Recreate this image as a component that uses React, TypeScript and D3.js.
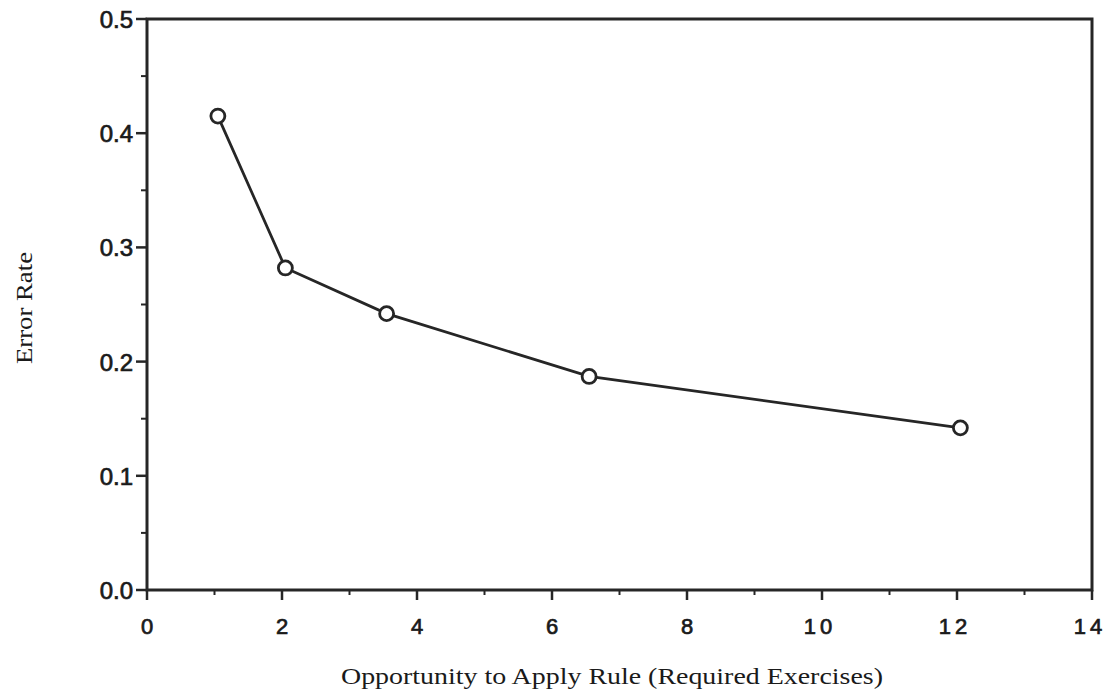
import React from "react";
import * as d3 from "d3";

const opportunities = [1.05, 2.05, 3.55, 6.55, 12.05];
const errorRates = [0.415, 0.282, 0.242, 0.187, 0.142];
const xTickValues = [0, 2, 4, 6, 8, 10, 12, 14];
const yTickValues = [0.0, 0.1, 0.2, 0.3, 0.4, 0.5];
const xMinorTicks = [1, 3, 5, 7, 9, 11, 13];
const yMinorTicks = [0.05, 0.15, 0.25, 0.35, 0.45];
const xTitle = "Opportunity to Apply Rule (Required Exercises)";
const yTitle = "Error Rate";

const W = 1105;
const H = 694;
const M = { left: 147, right: 1092, top: 19, bottom: 590 };

export default function App() {
  const x = d3.scaleLinear().domain([0, 14]).range([M.left, M.right]);
  const y = d3.scaleLinear().domain([0, 0.5]).range([M.bottom, M.top]);
  const pts = opportunities.map((o, i) => [x(o), y(errorRates[i])] as [number, number]);
  const line = d3.line()(pts) || "";
  const stroke = "#262626";
  const sans = "'Liberation Sans', Arial, Helvetica, sans-serif";
  const serif = "'Liberation Serif', 'Times New Roman', serif";

  return (
    <svg width={W} height={H} style={{ position: "absolute", left: 0, top: 0, background: "#fff" }}>
      <rect x={0} y={0} width={W} height={H} fill="#fff" />
      {/* frame */}
      <rect
        x={M.left}
        y={M.top}
        width={M.right - M.left}
        height={M.bottom - M.top}
        fill="none"
        stroke={stroke}
        strokeWidth={3}
      />
      {/* x ticks */}
      {xTickValues.map((v) => (
        <g key={"xt" + v}>
          <line x1={x(v)} x2={x(v)} y1={M.bottom} y2={M.bottom + 10} stroke={stroke} strokeWidth={2.5} />
          <text
            x={x(v) - (v >= 10 ? 2 : 0)}
            y={M.bottom + 44}
            textAnchor="middle"
            fontFamily={sans}
            fontSize={22}
            letterSpacing={v >= 10 ? 4 : 0}
            fill="#1a1a1a"
            stroke="#1a1a1a"
            strokeWidth={0.7}
          >
            {v}
          </text>
        </g>
      ))}
      {xMinorTicks.map((v) => (
        <line key={"xm" + v} x1={x(v)} x2={x(v)} y1={M.bottom} y2={M.bottom + 5} stroke={stroke} strokeWidth={2} />
      ))}
      {/* y ticks */}
      {yTickValues.map((v) => (
        <g key={"yt" + v}>
          <line x1={M.left - 11} x2={M.left} y1={y(v)} y2={y(v)} stroke={stroke} strokeWidth={2.5} />
          <text
            x={M.left - 14}
            y={y(v) + 9}
            textAnchor="end"
            fontFamily={sans}
            fontSize={24}
            fill="#1a1a1a"
            stroke="#1a1a1a"
            strokeWidth={0.7}
          >
            {v.toFixed(1)}
          </text>
        </g>
      ))}
      {yMinorTicks.map((v) => (
        <line key={"ym" + v} x1={M.left - 6} x2={M.left} y1={y(v)} y2={y(v)} stroke={stroke} strokeWidth={2} />
      ))}
      {/* data line */}
      <path d={line} fill="none" stroke={stroke} strokeWidth={2.8} />
      {pts.map((p, i) => (
        <circle key={"c" + i} cx={p[0]} cy={p[1]} r={7} fill="#fff" stroke={stroke} strokeWidth={2.8} />
      ))}
      {/* titles */}
      <text
        x={612}
        y={684}
        textAnchor="middle"
        fontFamily={serif}
        fontSize={23}
        textLength={542}
        lengthAdjust="spacingAndGlyphs"
        fill="#1a1a1a"
      >
        {xTitle}
      </text>
      <text
        transform="translate(32,308) rotate(-90)"
        textAnchor="middle"
        fontFamily={serif}
        fontSize={23}
        textLength={112}
        lengthAdjust="spacingAndGlyphs"
        fill="#1a1a1a"
      >
        {yTitle}
      </text>
    </svg>
  );
}
